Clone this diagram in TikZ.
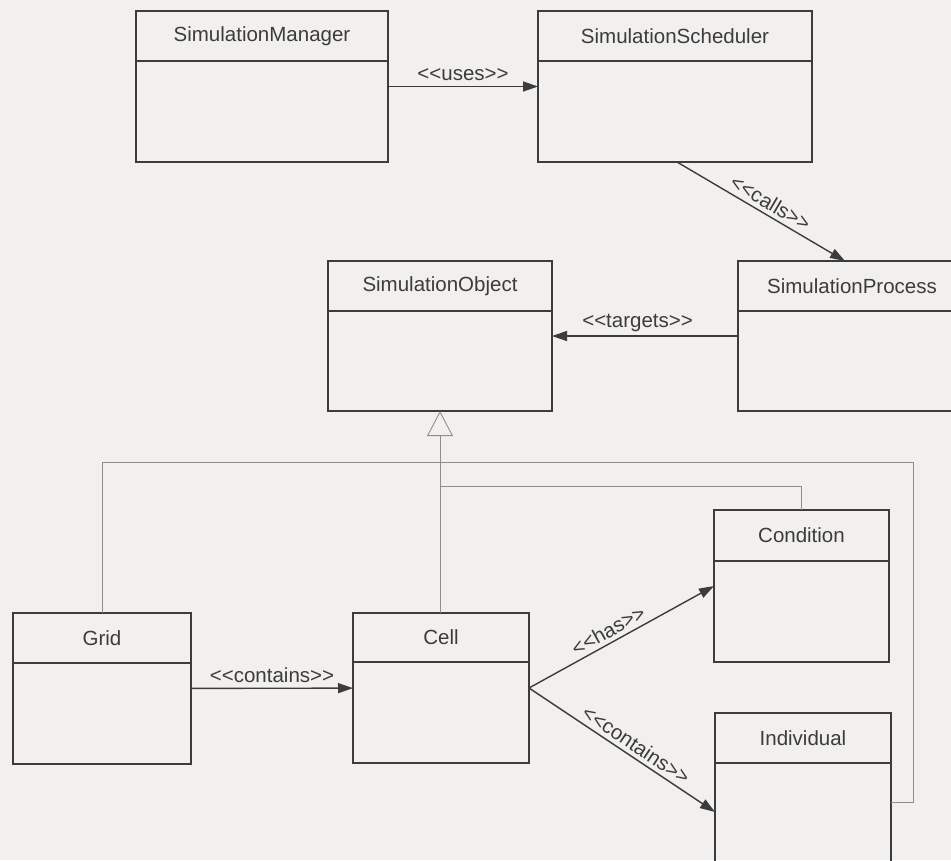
\documentclass[tikz,border=0pt]{standalone}
\usepackage{fontspec}
% a family without TeX ligature mapping, so << and >> stay as typed
\newfontfamily\diagfont{Liberation Sans}
\usetikzlibrary{arrows.meta,calc}

\definecolor{paper}{HTML}{F1F0EE}
\definecolor{ink}{HTML}{3C3C3C}
\definecolor{thinline}{HTML}{8E8E8E}

\tikzset{
  umlbox/.style={draw=ink, line width=1.6pt, inner sep=0pt, outer sep=0pt},
  divider/.style={draw=ink, line width=1.6pt},
  classname/.style={text=ink, font=\diagfont\fontsize{20.5}{24}\selectfont, inner sep=0pt},
  conn/.style={draw=ink, line width=1.4pt, -{Triangle[length=15pt,width=10pt]}},
  genline/.style={draw=thinline, line width=0.9pt},
  genarrow/.style={draw=thinline, line width=0.9pt,
    -{Triangle[open,length=25pt,width=26pt,fill=paper]}},
  lbl/.style={text=ink, font=\diagfont\fontsize{20.5}{24}\selectfont, inner sep=0pt},
}

% class box: name, x1, y1, x2, y2, divider y, title
\newcommand\umlclass[7]{%
  \node[umlbox, minimum width={(#4-#2)*1pt}, minimum height={(#5-#3)*1pt}]
    (#1) at ({(#2+#4)/2},{(#3+#5)/2}) {};
  \draw[divider] (#2,#6) -- (#4,#6);
  \node[classname] (#1-name) at ({(#2+#4)/2},{(#3+#6)/2}) {#7};
}

\begin{document}
\begin{tikzpicture}[x=1pt,y=-1pt]
  \fill[paper] (0,0) rectangle (951,860);
  \useasboundingbox (0,0) rectangle (951,860);
  \clip (0,0) rectangle (951,860);

  % classes
  \umlclass{sm}{136}{11}{388}{162}{61}{SimulationManager}
  \umlclass{ss}{538}{11}{812}{162}{61}{SimulationScheduler}
  \umlclass{so}{328}{261}{552}{411}{311}{SimulationObject}
  \umlclass{sp}{738}{261}{966}{411}{311}{SimulationProcess}
  \umlclass{cond}{714}{510}{889}{662}{561}{Condition}
  \umlclass{grid}{13}{613}{191}{764}{663}{Grid}
  \umlclass{cell}{353}{613}{529}{763}{662}{Cell}
  \umlclass{ind}{715}{713}{891}{880}{763}{Individual}

  % generalisation tree towards SimulationObject
  \coordinate (gridup) at (102,462);
  \coordinate (rightup) at (913,462);
  \coordinate (rightdown) at (913,802);
  \coordinate (condbranch) at (so.south |- 0,486);
  \coordinate (condup) at (801,486);
  \draw[genline] (grid.north -| gridup) -- (gridup) -- (rightup) -- (rightdown) -- (ind.east |- rightdown);
  \draw[genline] (condbranch) -- (condup) -- (cond.north -| condup);
  \draw[genarrow] (cell.north -| so.south) -- (so.south);

  % associations
  \draw[conn] (sm) -- node[lbl, pos=0.5, above=5pt] {<<uses>>} (ss);
  \draw[conn] ($(ss.south)+(2,0)$) -- node[lbl, pos=0.52, sloped, above=4pt] {<<calls>>} ($(sp.north)+(-7,0)$);
  \draw[conn] (sp.west) -- node[lbl, pos=0.54, above=4pt] {<<targets>>} (so.east);
  \draw[conn] (grid) -- node[lbl, pos=0.5, above=5pt] {<<contains>>} (cell);
  \draw[conn] (cell.east) -- node[lbl, pos=0.46, sloped, above=4pt] {<<has>>} (cond.west);
  \draw[conn] (cell.east) -- node[lbl, pos=0.54, sloped, above=4pt] {<<contains>>} (ind.west |- 0,812);
\end{tikzpicture}
\end{document}
